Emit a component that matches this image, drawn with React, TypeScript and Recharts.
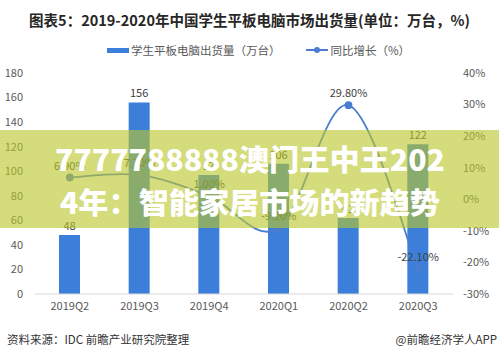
import { ComposedChart, XAxis, YAxis, Bar, Line, LabelList } from "recharts";

const quarters = ["2019Q2", "2019Q3", "2019Q4", "2020Q1", "2020Q2", "2020Q3"];
const shipments = [48, 156, 97, 106, 62, 122];
const growth = [6.9, 7.7, 1.0, -9.2, 29.8, -22.1];
const leftTicks = [0, 20, 40, 60, 80, 100, 120, 140, 160, 180];
const rightTicks = [-30, -20, -10, 0, 10, 20, 30, 40];
const bannerLines = ["7777788888澳门王中王202", "4年：智能家居市场的新趋势"];

const data = quarters.map((q, i) => ({ name: q, ship: shipments[i], growth: growth[i] }));

const font = '"Noto Sans CJK SC", "Noto Sans", sans-serif';
const BLUE = "#3b7fdb";
const LINE = "#4a7dcf";

// excel-like smoothed line (catmull-rom)
function smooth(context: any) {
  let pts: number[][] = [];
  return {
    areaStart() {},
    areaEnd() {},
    lineStart() { pts = []; },
    point(x: number, y: number) { pts.push([+x, +y]); },
    lineEnd() {
      if (!pts.length) return;
      context.moveTo(pts[0][0], pts[0][1]);
      for (let i = 0; i < pts.length - 1; i++) {
        const p0 = pts[i - 1] || pts[i], p1 = pts[i], p2 = pts[i + 1], p3 = pts[i + 2] || p2;
        context.bezierCurveTo(
          p1[0] + (p2[0] - p0[0]) / 6, p1[1] + (p2[1] - p0[1]) / 6,
          p2[0] - (p3[0] - p1[0]) / 6, p2[1] - (p3[1] - p1[1]) / 6,
          p2[0], p2[1]
        );
      }
    },
  };
}

export default function App() {
  return (
    <div style={{ position: "relative", width: 499, height: 359, background: "#fff", fontFamily: font, overflow: "hidden" }}>
      <style>{`body{margin:0}`}</style>
      <div style={{ position: "absolute", top: 9, left: 0, width: 499, textAlign: "center", fontSize: 14.5, fontWeight: 700, color: "#262626" }}>
        图表5：2019-2020年中国学生平板电脑市场出货量(单位：万台，%)
      </div>
      <div style={{ position: "absolute", top: 42, left: 107, display: "flex", alignItems: "center", fontSize: 11.5, color: "#595959" }}>
        <span style={{ display: "inline-block", width: 22, height: 5, background: BLUE, marginRight: 2 }} />
        <span>学生平板电脑出货量（万台）</span>
        <span style={{ display: "inline-block", position: "relative", width: 22, height: 2, background: LINE, marginLeft: 25, marginRight: 3 }}>
          <span style={{ position: "absolute", left: 8, top: -2, width: 6, height: 6, borderRadius: 3, background: LINE }} />
        </span>
        <span>同比增长（%）</span>
      </div>
      <ComposedChart width={499} height={359} data={data} margin={{ top: 73, right: 0, bottom: 45, left: 0 }}>
        <XAxis dataKey="name" tickLine={false} axisLine={{ stroke: "#d9d9d9" }} tick={{ fill: "#595959", fontSize: 11, fontFamily: font }} height={20} />
        <YAxis yAxisId="l" domain={[0, 180]} ticks={leftTicks} width={35} axisLine={false} tickLine={false} tickMargin={6} tick={{ fill: "#595959", fontSize: 11, fontFamily: font }} />
        <YAxis yAxisId="r" orientation="right" domain={[-30, 40]} ticks={rightTicks} width={46} axisLine={false} tickLine={false} tickMargin={4} tickFormatter={(v: number) => `${v}%`} tick={{ fill: "#595959", fontSize: 11, fontFamily: font, textAnchor: "start" }} />
        <Bar yAxisId="l" dataKey="ship" fill={BLUE} barSize={21} isAnimationActive={false}>
          <LabelList dataKey="ship" position="top" fill="#404040" fontSize={11} fontFamily={font} />
        </Bar>
        <Line yAxisId="r" dataKey="growth" type={smooth as any} stroke={LINE} strokeWidth={1.8} dot={{ r: 3, fill: LINE, stroke: LINE }} isAnimationActive={false}>
          <LabelList dataKey="growth" position="top" offset={8} fill="#404040" fontSize={11} fontFamily={font} formatter={(v: any) => `${Number(v).toFixed(2)}%`} />
        </Line>
      </ComposedChart>
      <svg width={499} height={359} style={{ position: "absolute", top: 0, left: 0 }}>
        <rect x={0} y={130} width={499} height={98} fill="rgba(186,199,42,0.62)" />
        <text x={55} y={171} textLength={390} lengthAdjust="spacingAndGlyphs" fill="#fff" fontSize={29} fontWeight={800} fontFamily={font}>{bannerLines[0]}</text>
        <text x={60} y={214} textLength={380} lengthAdjust="spacingAndGlyphs" fill="#fff" fontSize={29} fontWeight={800} fontFamily={font}>{bannerLines[1]}</text>
      </svg>
      <div style={{ position: "absolute", top: 331, left: 7, fontSize: 11.5, color: "#333" }}>资料来源：IDC 前瞻产业研究院整理</div>
      <div style={{ position: "absolute", top: 331, right: 2, fontSize: 11.5, color: "#333" }}>@前瞻经济学人APP</div>
    </div>
  );
}
